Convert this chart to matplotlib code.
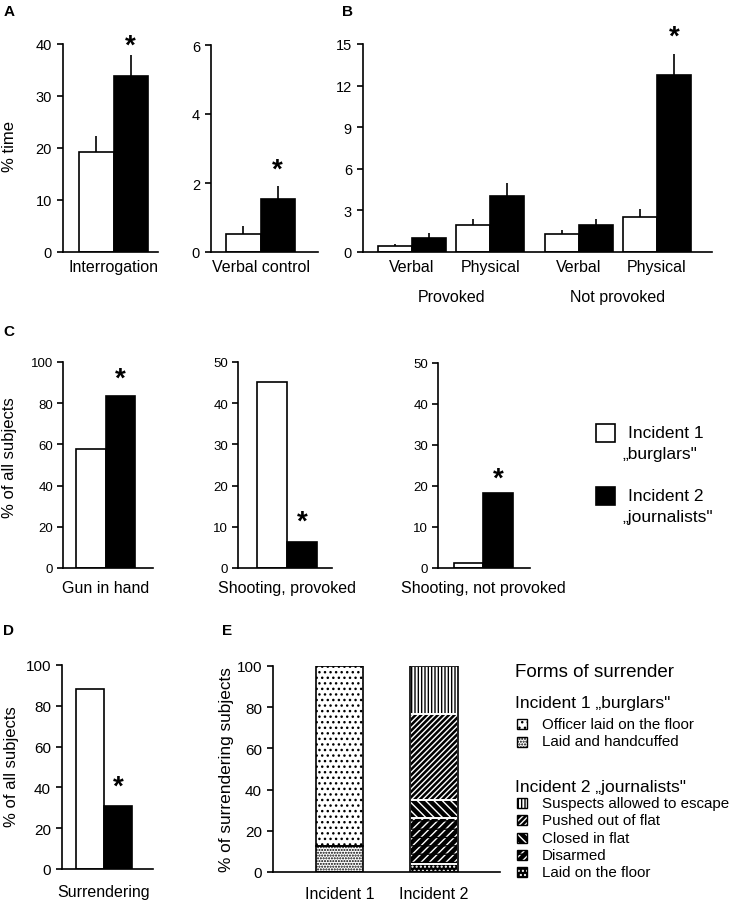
import matplotlib
matplotlib.use('Agg')
import matplotlib.pyplot as plt
from matplotlib.patches import Rectangle
import numpy as np

W, H = 737, 903
plt.rcParams['font.family'] = ['Liberation Sans', 'DejaVu Sans']
plt.rcParams['hatch.linewidth'] = 1.0

# ---------------- data ----------------
a_cats = ['Interrogation', 'Verbal control']
a_inc1 = [19.2, 0.53]
a_inc1_err = [3.2, 0.21]
a_inc2 = [33.9, 1.54]
a_inc2_err = [3.9, 0.37]
a_ymax = [40, 6]
a_yticks = [[0, 10, 20, 30, 40], [0, 2, 4, 6]]

b_cats = ['Verbal', 'Physical', 'Verbal', 'Physical']
b_groups = ['Provoked', 'Not provoked']
b_inc1 = [0.40, 1.95, 1.28, 2.56]
b_inc1_err = [0.17, 0.46, 0.34, 0.55]
b_inc2 = [1.01, 4.05, 1.95, 12.73]
b_inc2_err = [0.36, 0.89, 0.46, 1.57]
b_yticks = [0, 3, 6, 9, 12, 15]

c_cats = ['Gun in hand', 'Shooting, provoked', 'Shooting, not provoked']
c_inc1 = [57.9, 45.1, 1.2]
c_inc2 = [83.3, 6.3, 18.3]
c_ymax = [100, 50, 50]
c_yticks = [[0, 20, 40, 60, 80, 100], [0, 10, 20, 30, 40, 50], [0, 10, 20, 30, 40, 50]]

d_cat = 'Surrendering'
d_inc1 = 88.2
d_inc2 = 30.7
d_yticks = [0, 20, 40, 60, 80, 100]

e_bars = ['Incident 1', 'Incident 2']
e_inc1_forms = ['Laid and handcuffed', 'Officer laid on the floor']            # bottom -> top
e_inc1_vals = [12.4, 87.6]
e_inc2_forms = ['Laid on the floor', 'Disarmed', 'Closed in flat',
                'Pushed out of flat', 'Suspects allowed to escape']           # bottom -> top
e_inc2_vals = [4.0, 22.1, 8.9, 41.5, 23.5]
e_yticks = [0, 20, 40, 60, 80, 100]

legend_names = ['Incident 1', 'Incident 2']
legend_subs = ['\u201eburglars"', '\u201ejournalists"']

# ---------------- styles ----------------
LW = 1.2
E_STYLE = {
    'Officer laid on the floor': dict(fc='white', hc='black', hatch='...'),
    'Laid and handcuffed': dict(fc='white', hc='black', hatch='......'),
    'Suspects allowed to escape': dict(fc='white', hc='black', hatch='|||||'),
    'Pushed out of flat': dict(fc='black', hc='white', hatch='//////'),
    'Closed in flat': dict(fc='black', hc='white', hatch='\\\\\\\\'),
    'Disarmed': dict(fc='black', hc='white', hatch='////', cut='--'),
    'Laid on the floor': dict(fc='black', hc='white', hatch='....'),
}

fig = plt.figure(figsize=(W / 100, H / 100), dpi=100)


def add_ax(left, right, top, bottom):
    return fig.add_axes([left / W, 1 - bottom / H, (right - left) / W, (bottom - top) / H])


def style_ax(ax, ymax, yticks, fs=10.5, xfs=11.5, pad=4):
    ax.set_ylim(0, ymax)
    ax.set_yticks(yticks)
    for s in ['top', 'right']:
        ax.spines[s].set_visible(False)
    ax.spines['left'].set_linewidth(LW)
    ax.spines['bottom'].set_linewidth(LW)
    ax.spines['left'].set_bounds(0, ymax)
    ax.tick_params(axis='y', direction='out', length=4, width=LW, labelsize=fs, pad=pad)
    ax.tick_params(axis='x', length=0, labelsize=xfs)
    ax.patch.set_alpha(0)


def xlim_for(L, R, b0, w):
    return ((L - b0) / w - 0.5, (R - b0) / w - 0.5)


def star(ax, x, y, off):
    ax.annotate('*', xy=(x, y), xytext=(0, off), textcoords='offset points',
                ha='center', va='center', fontsize=20, fontweight='bold',
                annotation_clip=False)


def pair_bars(ax, xs, v1, v2, e1=None, e2=None):
    xs = np.asarray(xs, dtype=float)
    ax.bar(xs, v1, width=1, color='white', edgecolor='black', linewidth=LW, zorder=2)
    ax.bar(xs + 1, v2, width=1, color='black', edgecolor='black', linewidth=LW, zorder=2)
    if e1 is not None:
        ax.errorbar(xs, v1, yerr=[np.zeros(len(xs)), e1], fmt='none', ecolor='black',
                    elinewidth=LW, capsize=0, zorder=1)
        ax.errorbar(xs + 1, v2, yerr=[np.zeros(len(xs)), e2], fmt='none', ecolor='black',
                    elinewidth=LW, capsize=0, zorder=1)


# ---------------- panel A ----------------
a_geom = [(63, 158, 45, 253, 79, 34.5), (211, 318, 46, 253, 226, 34.5)]
a_star_off = [7, 12]
for i in range(2):
    L, R, T, B, b0, w = a_geom[i]
    ax = add_ax(L, R, T, B)
    pair_bars(ax, [0], [a_inc1[i]], [a_inc2[i]], [a_inc1_err[i]], [a_inc2_err[i]])
    ax.set_xlim(*xlim_for(L, R, b0, w))
    style_ax(ax, a_ymax[i], a_yticks[i])
    ax.set_xticks([0.5], [a_cats[i]])
    ax.tick_params(axis='x', pad=5)
    star(ax, 1, a_inc2[i] + a_inc2_err[i], a_star_off[i])

# ---------------- panel B ----------------
L, R, T, B = 363, 712, 45, 253
axb = add_ax(L, R, T, B)
b_pos = np.array([0, 2.3, 4.9, 7.2])
pair_bars(axb, b_pos, b_inc1, b_inc2, b_inc1_err, b_inc2_err)
axb.set_xlim(*xlim_for(L, R, 378, 34))
style_ax(axb, 15, b_yticks)
axb.set_xticks(b_pos + 0.5, b_cats)
axb.tick_params(axis='x', pad=5)
star(axb, b_pos[3] + 1, b_inc2[3] + b_inc2_err[3], 12)
for g in range(2):
    xc = (b_pos[2 * g] + b_pos[2 * g + 1]) / 2 + 0.5
    axb.text(xc, -0.215, b_groups[g], transform=axb.get_xaxis_transform(),
             ha='center', va='center', fontsize=11.5)

# ---------------- panel C ----------------
c_geom = [(63, 153, 363, 569, 76, 29.5), (238, 332, 363, 569, 257, 30), (438, 530, 364, 569, 454, 29.5)]
c_star_off = [13, 15, 10.5]
for i in range(3):
    L, R, T, B, b0, w = c_geom[i]
    ax = add_ax(L, R, T, B)
    pair_bars(ax, [0], [c_inc1[i]], [c_inc2[i]])
    ax.set_xlim(*xlim_for(L, R, b0, w))
    style_ax(ax, c_ymax[i], c_yticks[i], fs=9.5, xfs=11.5, pad=3)
    ax.set_xticks([0.5], [c_cats[i]])
    ax.tick_params(axis='x', pad=9)
    star(ax, 1, c_inc2[i], c_star_off[i])

# ---------------- panel D ----------------
L, R, T, B = 62, 153, 666, 870
axd = add_ax(L, R, T, B)
pair_bars(axd, [0], [d_inc1], [d_inc2])
axd.set_xlim(*xlim_for(L, R, 76, 28))
style_ax(axd, 100, d_yticks, fs=11)
axd.set_xticks([0.5], [d_cat])
axd.tick_params(axis='x', pad=11)
star(axd, 1, d_inc2, 14)

# ---------------- panel E ----------------
L, R, T, B = 273, 500, 667, 873
axe = add_ax(L, R, T, B)
axe.set_xlim((L - 339.5) / 94.5, (R - 339.5) / 94.5)
style_ax(axe, 100, e_yticks, fs=11)
axe.set_xticks([0, 1], e_bars)
axe.tick_params(axis='x', pad=10)


def draw_segment(ax, x, bottom, h, st, sep):
    ax.bar(x, h, width=0.5, bottom=bottom, color=st['fc'], edgecolor=st['hc'],
           hatch=st['hatch'], linewidth=0, zorder=2)
    if 'cut' in st:
        ax.bar(x, h, width=0.5, bottom=bottom, color='none', edgecolor=st['fc'],
               hatch=st['cut'], linewidth=0, zorder=2.1)
    ax.bar(x, h, width=0.5, bottom=bottom, color='none', edgecolor=sep,
           linewidth=LW, zorder=2.2)


bottom = 0
for f, v in zip(e_inc1_forms, e_inc1_vals):
    draw_segment(axe, 0, bottom, v, E_STYLE[f], 'black')
    bottom += v
bottom = 0
for f, v in zip(e_inc2_forms, e_inc2_vals):
    draw_segment(axe, 1, bottom, v, E_STYLE[f], 'white')
    bottom += v
axe.bar(1, sum(e_inc2_vals), width=0.5, color='none', edgecolor='black', linewidth=LW, zorder=3)

# ---------------- overlay (labels, legends) ----------------
ov = fig.add_axes([0, 0, 1, 1])
ov.set_xlim(0, W)
ov.set_ylim(H, 0)
ov.axis('off')

for lab, x, y in [('A', 4, 12), ('B', 342, 12), ('C', 3, 332), ('D', 3, 631), ('E', 222, 631)]:
    ov.text(x, y, lab, fontsize=11, fontweight='bold', ha='left', va='center')

ov.text(10, 147, '% time', rotation=90, ha='center', va='center', fontsize=12)
ov.text(10, 458, '% of all subjects', rotation=90, ha='center', va='center', fontsize=12)
ov.text(12, 767, '% of all subjects', rotation=90, ha='center', va='center', fontsize=12)
ov.text(227, 770, '% of surrendering subjects', rotation=90, ha='center', va='center', fontsize=12.4)

# legend C
for k, (fc, y0) in enumerate([('white', 425), ('black', 488)]):
    ov.add_patch(Rectangle((596, y0), 19, 18, facecolor=fc, edgecolor='black', linewidth=LW))
    ov.text(628, y0 + 9, legend_names[k], ha='left', va='center', fontsize=12.5)
    ov.text(622, y0 + 30, legend_subs[k], ha='left', va='center', fontsize=12.5)

# legend E
ov.text(515, 673, 'Forms of surrender', fontsize=13.5, ha='left', va='center')
ov.text(515, 704, 'Incident 1 \u201eburglars"', fontsize=12.5, ha='left', va='center')
ov.text(515, 788, 'Incident 2 \u201ejournalists"', fontsize=12.5, ha='left', va='center')
leg_items = [(f, 725 + 17.5 * k) for k, f in enumerate(e_inc1_forms[::-1])] + \
            [(f, 804 + 17.3 * k) for k, f in enumerate(e_inc2_forms[::-1])]
for f, y in leg_items:
    st = E_STYLE[f]
    ov.add_patch(Rectangle((517, y - 5), 10, 10, facecolor=st['fc'], edgecolor=st['hc'],
                           hatch=st['hatch'], linewidth=0))
    if 'cut' in st:
        ov.add_patch(Rectangle((517, y - 5), 10, 10, facecolor='none', edgecolor=st['fc'],
                               hatch=st['cut'], linewidth=0))
    ov.add_patch(Rectangle((517, y - 5), 10, 10, facecolor='none', edgecolor='black', linewidth=1))
    ov.text(542, y, f, fontsize=10.9, ha='left', va='center')

fig.savefig('out.png', dpi=100)
